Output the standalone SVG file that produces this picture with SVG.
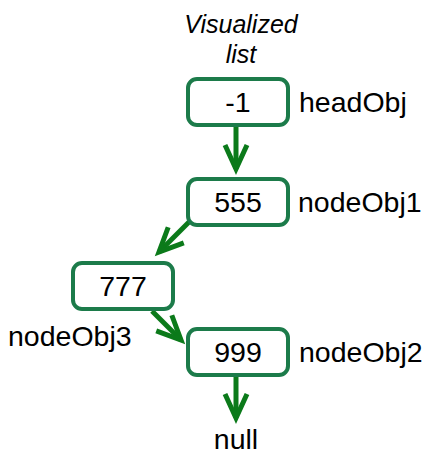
<svg xmlns="http://www.w3.org/2000/svg" width="432" height="454" viewBox="0 0 432 454">
<style>
.box{fill:#fff;stroke:#1c7b4a;stroke-width:4}
.t{font-family:"Liberation Sans",Arial,sans-serif;font-size:28.5px;fill:#000}
.c{text-anchor:middle}
.title{font-family:"Liberation Sans",Arial,sans-serif;font-size:25px;font-style:italic;text-anchor:middle;fill:#000}
.edge{stroke:#0b7a1a;stroke-width:5;fill:none;marker-end:url(#ah)}
</style>
<defs>
<marker id="ah" markerUnits="userSpaceOnUse" viewBox="-30 -15 34 30" refX="0" refY="0" markerWidth="34" markerHeight="30" orient="auto" overflow="visible">
<path d="M-24,-11 L0,0 L-24,11" fill="none" stroke="#0b7a1a" stroke-width="5"/>
</marker>
</defs>
<g id="title">
<text class="title" x="241" y="33">Visualized</text>
<text class="title" x="241" y="63">list</text>
</g>
<g id="connectors">
<path class="edge" d="M236,126 L236,169"/>
<path class="edge" d="M189,222 L159,252"/>
<path class="edge" d="M152,311 L181,340"/>
<path class="edge" d="M236,377 L236,418"/>
</g>
<g id="headObj">
<rect class="box" x="188" y="79" width="100" height="46" rx="9"/>
<text class="t c" x="238" y="112">-1</text>
<text class="t" x="299" y="112">headObj</text>
</g>
<g id="nodeObj1">
<rect class="box" x="188" y="179" width="100" height="46" rx="9"/>
<text class="t c" x="238" y="212">555</text>
<text class="t" x="298" y="212">nodeObj1</text>
</g>
<g id="nodeObj3">
<rect class="box" x="73" y="263" width="100" height="46" rx="9"/>
<text class="t c" x="123" y="296">777</text>
<text class="t" x="8" y="346">nodeObj3</text>
</g>
<g id="nodeObj2">
<rect class="box" x="188" y="329" width="100" height="46" rx="9"/>
<text class="t c" x="238" y="362">999</text>
<text class="t" x="299" y="362">nodeObj2</text>
</g>
<g id="null">
<text class="t c" x="236" y="449">null</text>
</g>
</svg>
